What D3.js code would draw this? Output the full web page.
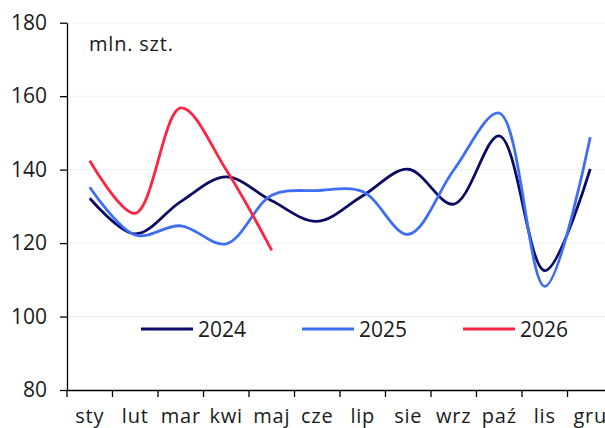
<!DOCTYPE html>
<html>
<head>
<meta charset="utf-8">
<script src="https://cdn.jsdelivr.net/npm/d3@7"></script>
<style>
  body { margin: 0; background: #fff; }
  text { font-family: "Open Sans", sans-serif; fill: #1a1a1a; }
</style>
</head>
<body>
<svg id="chart" width="605" height="428"></svg>
<script>
const months = ["sty", "lut", "mar", "kwi", "maj", "cze", "lip", "sie", "wrz", "paź", "lis", "gru"];
const yTicks = [80, 100, 120, 140, 160, 180];
const s2024 = [132.2, 122.5, 131.3, 138, 131.5, 125.9, 132.9, 140.1, 130.6, 149.2, 112.5, 140.2];
const s2025 = [135.2, 122.2, 124.7, 119.8, 133, 134.3, 134, 122.4, 139.9, 155.4, 108.2, 148.8];
const s2026 = [142.4, 128.1, 156.8, 139.9, 118];
const seriesNames = ["2024", "2025", "2026"];
const colors = ["#0b0b63", "#3d6ef5", "#ff2442"];
const unit = "mln. szt.";

const svg = d3.select("#chart");
const plotLeft = 67, plotRight = 613, plotTop = 22.7, plotBottom = 390;
const fontFamily = "'Open Sans', sans-serif";

const x = d3.scaleBand().domain(months).range([plotLeft, plotRight]);
const y = d3.scaleLinear().domain([80, 180]).range([plotBottom, plotTop]);

// faint gridlines
svg.append("g")
  .selectAll("line")
  .data(yTicks.slice(1))
  .join("line")
  .attr("x1", plotLeft).attr("x2", 605)
  .attr("y1", d => y(d)).attr("y2", d => y(d))
  .attr("stroke", "#f0f0f0").attr("stroke-width", 1);

// y axis
const yAxis = svg.append("g")
  .attr("transform", `translate(${plotLeft},0)`)
  .call(d3.axisLeft(y).tickValues(yTicks).tickSize(7).tickPadding(13).tickSizeOuter(0));
yAxis.select(".domain").attr("stroke", "#000").attr("stroke-width", 1.3);
yAxis.selectAll(".tick line").attr("stroke", "#000").attr("stroke-width", 1.3);
yAxis.selectAll("text").attr("font-size", 21).style("font-family", fontFamily).attr("fill", "#1a1a1a");

// x axis: labels in band centres, ticks on band edges
const xAxis = svg.append("g")
  .attr("transform", `translate(0,${plotBottom})`)
  .call(d3.axisBottom(x).tickSize(0).tickPadding(19).tickSizeOuter(0));
xAxis.select(".domain").attr("stroke", "#000").attr("stroke-width", 1.3);
xAxis.selectAll("text").attr("font-size", 20).attr("letter-spacing", 0.8)
  .style("font-family", fontFamily).attr("fill", "#1a1a1a");
xAxis.selectAll("line.edge")
  .data(months)
  .join("line")
  .attr("class", "edge")
  .attr("x1", d => x(d)).attr("x2", d => x(d))
  .attr("y1", 0).attr("y2", 7)
  .attr("stroke", "#000").attr("stroke-width", 1.3);

// lines
const line = d3.line()
  .x((d, i) => x(months[i]) + x.bandwidth() / 2)
  .y(d => y(d))
  .curve(d3.curveCatmullRom.alpha(0.5));

[s2024, s2025, s2026].forEach((s, i) => {
  svg.append("path")
    .datum(s)
    .attr("d", line)
    .attr("fill", "none")
    .attr("stroke", colors[i])
    .attr("stroke-width", 2.8);
});

// unit label
svg.append("text")
  .attr("x", 89).attr("y", 51)
  .attr("font-size", 20)
  .attr("letter-spacing", 0.8)
  .text(unit);

// legend
const legendX = [141, 302, 463];
seriesNames.forEach((name, i) => {
  svg.append("line")
    .attr("x1", legendX[i]).attr("x2", legendX[i] + 52)
    .attr("y1", 329).attr("y2", 329)
    .attr("stroke", colors[i]).attr("stroke-width", 2.8);
  svg.append("text")
    .attr("x", legendX[i] + 57).attr("y", 337)
    .attr("font-size", 21)
    .text(name);
});
</script>
</body>
</html>
